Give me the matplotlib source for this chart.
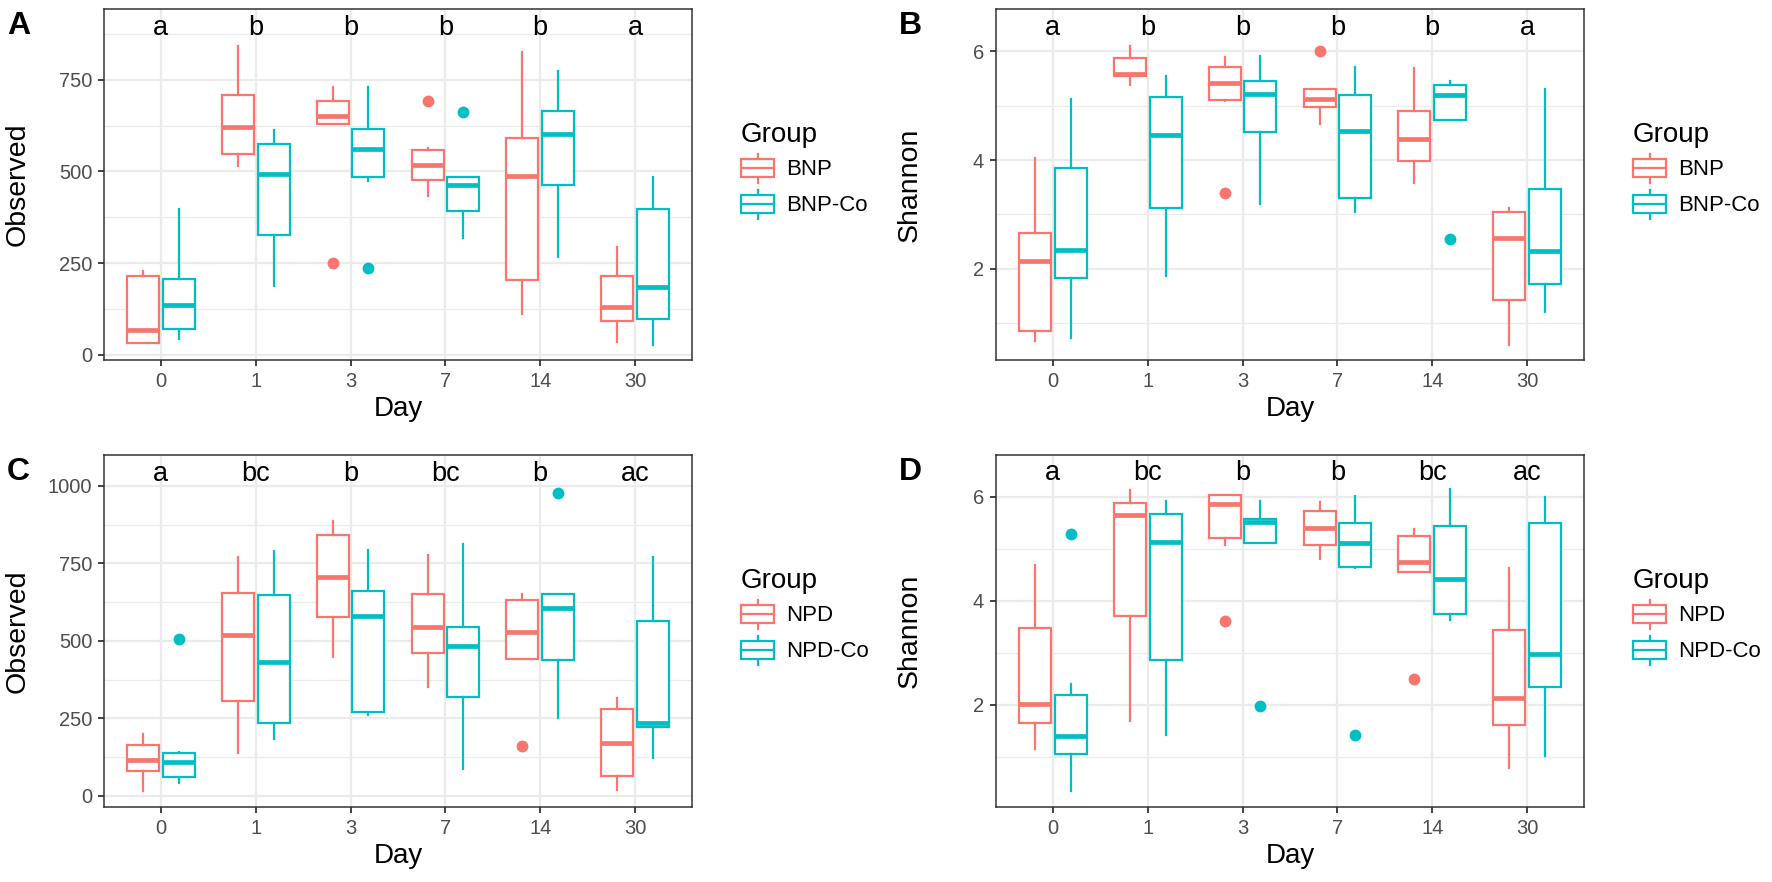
# -*- coding: utf-8 -*-

import matplotlib
matplotlib.use("Agg")
import matplotlib.pyplot as plt
import matplotlib.patches as mpatches
from matplotlib.legend_handler import HandlerBase
from matplotlib.lines import Line2D
import numpy as np

plt.rcParams["font.family"] = ["Liberation Sans", "DejaVu Sans"]

RED = "#F8766D"
CYAN = "#00BFC4"

days = ["0", "1", "3", "7", "14", "30"]

# Panel A - Observed, BNP / BNP-Co
a_bnp_lo = [32, 514, 630, 432, 111, 34]
a_bnp_q1 = [32, 549, 630, 477, 205, 93]
a_bnp_med = [68, 622, 650, 518, 489, 130]
a_bnp_q3 = [216, 708, 692, 558, 590, 216]
a_bnp_hi = [230, 841, 729, 565, 827, 293]
a_bnp_out = [[], [], [250], [691], [], []]
a_co_lo = [43, 188, 473, 318, 266, 28]
a_co_q1 = [70, 328, 485, 393, 463, 98]
a_co_med = [137, 494, 560, 464, 602, 186]
a_co_q3 = [208, 575, 615, 484, 666, 399]
a_co_hi = [398, 614, 729, 484, 775, 484]
a_co_out = [[], [], [236], [663], [], []]
a_letters = ["a", "b", "b", "b", "b", "a"]

# Panel B - Shannon, BNP / BNP-Co
b_bnp_lo = [0.67, 5.38, 5.08, 4.67, 3.57, 0.60]
b_bnp_q1 = [0.86, 5.54, 5.11, 4.97, 3.98, 1.42]
b_bnp_med = [2.15, 5.58, 5.42, 5.13, 4.39, 2.57]
b_bnp_q3 = [2.65, 5.87, 5.72, 5.31, 4.91, 3.04]
b_bnp_hi = [4.03, 6.09, 5.90, 5.31, 5.69, 3.12]
b_bnp_out = [[], [], [3.40], [6.0], [], []]
b_co_lo = [0.73, 1.86, 3.19, 3.04, 4.73, 1.21]
b_co_q1 = [1.83, 3.11, 4.51, 3.30, 4.73, 1.72]
b_co_med = [2.34, 4.46, 5.21, 4.53, 5.20, 2.33]
b_co_q3 = [3.86, 5.16, 5.45, 5.20, 5.39, 3.46]
b_co_hi = [5.12, 5.54, 5.91, 5.71, 5.45, 5.30]
b_co_out = [[], [], [], [], [2.55], []]
b_letters = ["a", "b", "b", "b", "b", "a"]

# Panel C - Observed, NPD / NPD-Co
c_npd_lo = [15, 139, 449, 350, 443, 18]
c_npd_q1 = [80, 307, 578, 462, 443, 64]
c_npd_med = [115, 519, 707, 544, 530, 172]
c_npd_q3 = [164, 656, 843, 651, 632, 279]
c_npd_hi = [201, 772, 887, 776, 653, 316]
c_npd_out = [[], [], [], [], [160], []]
c_co_lo = [40, 182, 260, 88, 252, 123]
c_co_q1 = [61, 234, 271, 320, 440, 221]
c_co_med = [108, 433, 580, 484, 605, 234]
c_co_q3 = [137, 647, 662, 546, 652, 564]
c_co_hi = [142, 790, 793, 813, 653, 772]
c_co_out = [[505], [], [], [], [978], []]
c_letters = ["a", "bc", "b", "bc", "b", "ac"]

# Panel D - Shannon, NPD / NPD-Co
d_npd_lo = [1.15, 1.68, 5.07, 4.80, 4.55, 0.78]
d_npd_q1 = [1.65, 3.71, 5.21, 5.07, 4.55, 1.60]
d_npd_med = [2.02, 5.65, 5.85, 5.40, 4.74, 2.13]
d_npd_q3 = [3.48, 5.87, 6.03, 5.72, 5.24, 3.44]
d_npd_hi = [4.68, 6.12, 6.03, 5.90, 5.37, 4.62]
d_npd_out = [[], [], [3.61], [], [2.50], []]
d_co_lo = [0.33, 1.41, 5.11, 4.62, 3.62, 1.02]
d_co_q1 = [1.04, 2.85, 5.11, 4.64, 3.75, 2.34]
d_co_med = [1.40, 5.13, 5.52, 5.10, 4.42, 2.98]
d_co_q3 = [2.19, 5.67, 5.56, 5.49, 5.44, 5.49]
d_co_hi = [2.40, 5.92, 5.92, 6.01, 6.14, 5.99]
d_co_out = [[5.28], [], [1.97], [1.41], [], []]
d_letters = ["a", "bc", "b", "b", "bc", "ac"]

W, H = 1772, 882


class BoxKeyHandler(HandlerBase):
    # ggplot-like legend key: box + median + whiskers
    def create_artists(self, legend, orig_handle, xdescent, ydescent, width, height, fontsize, trans):
        c = orig_handle.get_edgecolor()
        x0, y0 = -xdescent, -ydescent
        w, h = width, height
        xm = x0 + w / 2
        arts = [
            Line2D([xm, xm], [y0 + 0.04 * h, y0 + 0.22 * h], color=c, lw=1.6),
            Line2D([xm, xm], [y0 + 0.78 * h, y0 + 0.96 * h], color=c, lw=1.6),
            mpatches.Rectangle((x0, y0 + 0.22 * h), w, 0.56 * h, facecolor="white", edgecolor=c, lw=1.6),
            Line2D([x0, x0 + w], [y0 + 0.5 * h, y0 + 0.5 * h], color=c, lw=1.6),
        ]
        for a in arts:
            a.set_transform(trans)
        return arts


def box_stats(lo, q1, med, q3, hi, out):
    return [dict(whislo=l, q1=a, med=m, q3=b, whishi=h, fliers=f)
            for l, a, m, b, h, f in zip(lo, q1, med, q3, hi, out)]


def draw_panel(rect, groups, letters, letter_y, ylim, yticks, ylabel, tag, legend_names, legend_top):
    fig = plt.gcf()
    ax = fig.add_axes(rect)
    pos = np.arange(1, len(days) + 1)
    for (stats, color), offset in zip(groups, (-0.1875, 0.1875)):
        ax.bxp(stats, positions=pos + offset, widths=0.3375, showcaps=False, patch_artist=True,
               boxprops=dict(facecolor="white", edgecolor=color, linewidth=1.6),
               medianprops=dict(color=color, linewidth=3.4, solid_capstyle="butt"),
               whiskerprops=dict(color=color, linewidth=1.6),
               flierprops=dict(marker="o", markerfacecolor=color, markeredgecolor=color, markersize=7.5, linestyle="none"),
               manage_ticks=False)

    for x, t in zip(pos, letters):
        ax.text(x, letter_y, t, ha="center", va="baseline", fontsize=19.5, color="black")

    ax.set_xlim(0.4, len(days) + 0.6)
    ax.set_ylim(*ylim)
    ax.set_xticks(pos)
    ax.set_xticklabels(days)
    ax.set_yticks(yticks)
    step = yticks[1] - yticks[0]
    minors = [v + step / 2 for v in [yticks[0] - step] + list(yticks)]
    minors = [v for v in minors if ylim[0] < v < ylim[1]]
    ax.set_yticks(minors, minor=True)
    ax.grid(True, which="major", color="#EBEBEB", linewidth=1.6)
    ax.grid(True, which="minor", axis="y", color="#EBEBEB", linewidth=0.9)
    ax.set_axisbelow(True)
    ax.tick_params(which="major", length=4.5, width=1.3, color="#333333", labelsize=14.5, labelcolor="#4D4D4D", pad=4)
    ax.tick_params(which="minor", length=0)
    for s in ax.spines.values():
        s.set_color("#333333")
        s.set_linewidth(1.1)

    ax.set_xlabel("Day", fontsize=20, labelpad=4)
    ax.set_ylabel(ylabel, fontsize=20.5)
    ax.yaxis.set_label_coords(-0.125, 0.5)

    fig.text(rect[0] - 97 / W, rect[1] + rect[3] - 2 / H, tag, fontsize=23, fontweight="bold", ha="left", va="top")

    handles = [mpatches.Patch(edgecolor=c, facecolor="white", label=n) for (_, c), n in zip(groups, legend_names)]
    leg = fig.legend(handles=handles, title="Group", loc="upper left",
                     bbox_to_anchor=(rect[0] + rect[2] + 49 / W, legend_top), bbox_transform=fig.transFigure,
                     frameon=False, fontsize=16, title_fontsize=20, borderpad=0, borderaxespad=0,
                     handlelength=1.5, handleheight=1.8, labelspacing=0.2, handletextpad=0.55,
                     handler_map={mpatches.Patch: BoxKeyHandler()})
    leg._legend_box.align = "left"
    return ax


def main():
    fig = plt.figure(figsize=(W / 100, H / 100), dpi=100)

    left1, left2 = 104 / W, 996 / W
    pw = 588 / W
    top_h = (360 - 9) / H
    bot_h = (807 - 455) / H
    top_y = 1 - 360 / H
    bot_y = 1 - 807 / H

    draw_panel([left1, top_y, pw, top_h],
               [(box_stats(a_bnp_lo, a_bnp_q1, a_bnp_med, a_bnp_q3, a_bnp_hi, a_bnp_out), RED),
                (box_stats(a_co_lo, a_co_q1, a_co_med, a_co_q3, a_co_hi, a_co_out), CYAN)],
               a_letters, 873, (-14, 943), [0, 250, 500, 750], "Observed", "A",
               ["BNP", "BNP-Co"], 1 - 122 / H)
    draw_panel([left2, top_y, pw, top_h],
               [(box_stats(b_bnp_lo, b_bnp_q1, b_bnp_med, b_bnp_q3, b_bnp_hi, b_bnp_out), RED),
                (box_stats(b_co_lo, b_co_q1, b_co_med, b_co_q3, b_co_hi, b_co_out), CYAN)],
               b_letters, 6.31, (0.32, 6.78), [2, 4, 6], "Shannon", "B",
               ["BNP", "BNP-Co"], 1 - 122 / H)
    draw_panel([left1, bot_y, pw, bot_h],
               [(box_stats(c_npd_lo, c_npd_q1, c_npd_med, c_npd_q3, c_npd_hi, c_npd_out), RED),
                (box_stats(c_co_lo, c_co_q1, c_co_med, c_co_q3, c_co_hi, c_co_out), CYAN)],
               c_letters, 1017, (-36, 1100), [0, 250, 500, 750, 1000], "Observed", "C",
               ["NPD", "NPD-Co"], 1 - 568 / H)
    draw_panel([left2, bot_y, pw, bot_h],
               [(box_stats(d_npd_lo, d_npd_q1, d_npd_med, d_npd_q3, d_npd_hi, d_npd_out), RED),
                (box_stats(d_co_lo, d_co_q1, d_co_med, d_co_q3, d_co_hi, d_co_out), CYAN)],
               d_letters, 6.31, (0.03, 6.80), [2, 4, 6], "Shannon", "D",
               ["NPD", "NPD-Co"], 1 - 568 / H)

    fig.savefig("out.png", dpi=100, facecolor="white")


if __name__ == "__main__":
    main()
